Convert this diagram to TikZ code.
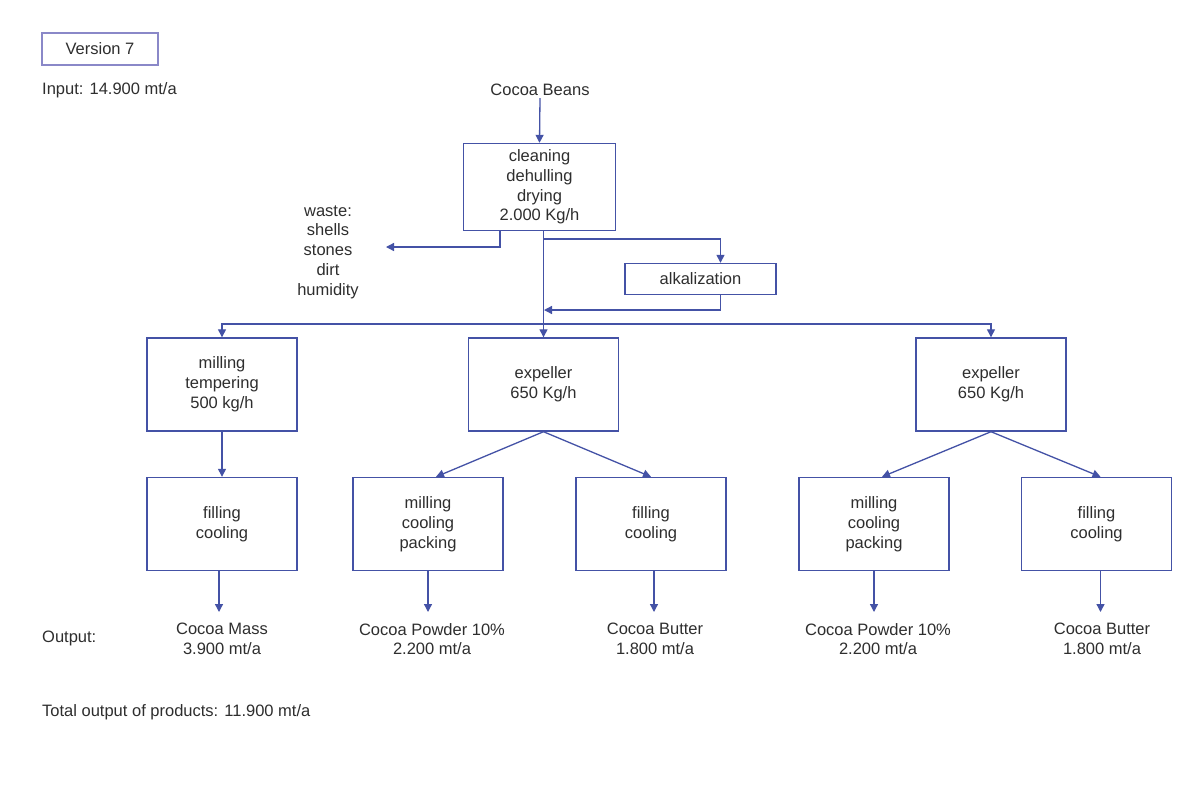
\documentclass[tikz,border=0pt]{standalone}
\usepackage{fontspec}
\setmainfont{Liberation Sans}
\usetikzlibrary{arrows.meta}
\definecolor{lc}{HTML}{4452A6}
\definecolor{tc}{HTML}{2E2E2E}
\definecolor{vc}{HTML}{8A88C8}
\begin{document}
\begin{tikzpicture}[x=1pt,y=-1pt,
  txt/.style={align=center,text=tc,font=\fontsize{16.5}{19.8}\selectfont,inner sep=2pt},
  box/.style={txt,draw=lc,line width=1.4pt,minimum width=150pt,minimum height=93pt,inner sep=0pt},
  arr/.style={draw=lc,line width=1.3pt,-{Triangle[length=8pt,width=8pt]}},
  ln/.style={draw=lc,line width=1.3pt}]
\useasboundingbox[fill=white] (0,0) rectangle (1200,796);

% header
\node[txt,draw=vc,line width=1.1pt,minimum width=116pt,minimum height=32pt] (ver) at (100,49) {Version 7};
\node[txt,anchor=west] (inp) at (40,90) {Input: 14.900 mt/a};
\node[txt] (beans) at (540,90) {Cocoa Beans};

% boxes
\node[box,minimum width=152pt,minimum height=87pt] (clean) at (539.5,187) {cleaning\\dehulling\\drying\\2.000 Kg/h};
\node[box,minimum width=151pt,minimum height=31pt] (alk) at (700.5,279) {alkalization};
\node[txt] (waste) at (328,252) {waste:\\shells\\stones\\dirt\\humidity};

\node[box] (mt)  at (222,384.5) {milling\\tempering\\500 kg/h};
\node[box] (ex1) at (543.5,384.5) {expeller\\650 Kg/h};
\node[box] (ex2) at (991,384.5) {expeller\\650 Kg/h};

\node[box] (fc1)  at (222,524) {filling\\cooling};
\node[box] (mcp1) at (428,524) {milling\\cooling\\packing};
\node[box] (fc2)  at (651,524) {filling\\cooling};
\node[box] (mcp2) at (874,524) {milling\\cooling\\packing};
\node[box] (fc3)  at (1096.5,524) {filling\\cooling};

% outputs
\node[txt,anchor=west] (outl) at (40,638) {Output:};
\node[txt] (o1) at (222,639) {Cocoa Mass\\3.900 mt/a};
\node[txt] (o2) at (432,639) {Cocoa Powder 10\%\\2.200 mt/a};
\node[txt] (o3) at (655,639) {Cocoa Butter\\1.800 mt/a};
\node[txt] (o4) at (878,639) {Cocoa Powder 10\%\\2.200 mt/a};
\node[txt] (o5) at (1102,639) {Cocoa Butter\\1.800 mt/a};
\node[txt,anchor=west] (tot) at (40,712) {Total output of products: 11.900 mt/a};

% coordinates
\coordinate (wt) at (386,247);
\coordinate (b1) at (544,239);
\coordinate (b2) at (544,310);
\coordinate (j)  at (544,324);

% connectors
\draw[arr] (beans.south) -- (clean.north);
\draw[arr] ([xshift=-39.5pt]clean.south) |- (wt);
\draw[arr] (ex1.north |- clean.south) -- (ex1.north);
\draw[arr] (b1) -| ([xshift=20pt]alk.north);
\draw[arr] ([xshift=20pt]alk.south) |- (b2);
\draw[arr] (j) -| (mt.north);
\draw[arr] (j) -| (ex2.north);

\draw[arr] (mt.south) -- (fc1.north);
\draw[arr] (ex1.south) -- ([xshift=8pt]mcp1.north);
\draw[arr] (ex1.south) -- (fc2.north);
\draw[arr] (ex2.south) -- ([xshift=8pt]mcp2.north);
\draw[arr] (ex2.south) -- ([xshift=4pt]fc3.north);

\draw[arr] ([xshift=-3pt]fc1.south) -- ([xshift=-3pt]fc1.south |- 0,612);
\draw[arr] (mcp1.south) -- (mcp1.south |- 0,612);
\draw[arr] ([xshift=3pt]fc2.south) -- ([xshift=3pt]fc2.south |- 0,612);
\draw[arr] (mcp2.south) -- (mcp2.south |- 0,612);
\draw[arr] ([xshift=4pt]fc3.south) -- ([xshift=4pt]fc3.south |- 0,612);
\end{tikzpicture}
\end{document}
